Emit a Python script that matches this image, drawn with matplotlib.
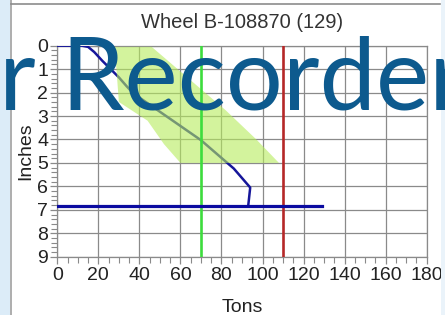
import matplotlib
matplotlib.use("Agg")
import matplotlib.pyplot as plt
from matplotlib.ticker import MultipleLocator
from matplotlib.patches import Polygon, Rectangle
from matplotlib.lines import Line2D

# ---- data ----
title = "Wheel B-108870 (129)"
x_label = "Tons"
y_label = "Inches"
overlay_text = "r Recorder"

curve_tons = [0, 12, 15, 18, 22, 26, 30, 34, 37, 70, 86, 94, 93]
curve_inches = [0, 0, 0.05, 0.27, 0.65, 1.0, 1.35, 1.75, 2.03, 4.03, 5.24, 6.05, 6.85]

limit_tons = [0, 129]
limit_inches = [6.85, 6.85]

band_tons = [28, 46, 82, 97, 108, 60, 52, 44, 30]
band_inches = [0.05, 0.05, 2.75, 4.0, 5.0, 5.0, 4.2, 3.2, 2.4]

green_tons = 70
red_tons = 110

x_ticks = [0, 20, 40, 60, 80, 100, 120, 140, 160, 180]
y_ticks = [0, 1, 2, 3, 4, 5, 6, 7, 8, 9]

# ---- figure ----
W, H = 445, 315
fig = plt.figure(figsize=(W / 100, H / 100), dpi=100)
fig.patch.set_facecolor("white")

# left light blue strip and frame lines
fig.patches.append(Rectangle((0, 0), 10 / W, 1, transform=fig.transFigure,
                             facecolor="#dcecf8", edgecolor="none", zorder=0))
fig.patches.append(Rectangle((441 / W, 0), 4 / W, 1, transform=fig.transFigure,
                             facecolor="#eaf3fa", edgecolor="none", zorder=0))
fig.lines.append(Line2D([10.5 / W, 10.5 / W], [0, 1], transform=fig.transFigure,
                        color="#a0a0a0", lw=1.2))
fig.lines.append(Line2D([11 / W, 440 / W], [1 - 3.5 / H, 1 - 3.5 / H],
                        transform=fig.transFigure, color="#8c8c8c", lw=1.2))

left, right, top, bottom = 57.3, 426.7, 45.7, 256.7
ax = fig.add_axes([left / W, 1 - bottom / H, (right - left) / W, (bottom - top) / H])
ax.set_xlim(0, 180)
ax.set_ylim(9, 0)

ax.xaxis.set_minor_locator(MultipleLocator(5))
ax.yaxis.set_minor_locator(MultipleLocator(0.2))
ax.set_xticks(x_ticks)
ax.set_yticks(y_ticks)

ax.grid(True, which="major", color="#8a8a8a", lw=0.9)
ax.set_axisbelow(True)
for s in ax.spines.values():
    s.set_color("#8a8a8a")
    s.set_linewidth(0.9)

ax.tick_params(axis="both", which="major", direction="out", length=5, width=0.9,
               color="#8a8a8a", labelsize=14, labelcolor="#222222", pad=1.5)
ax.tick_params(axis="x", which="major", pad=2.5)
ax.tick_params(axis="both", which="minor", direction="out", length=4, width=0.8,
               color="#8a8a8a")
for lab in ax.get_xticklabels() + ax.get_yticklabels():
    lab.set_fontfamily("Liberation Sans")

ax.set_xlabel(x_label, fontsize=14, family="Liberation Sans", color="#222222", labelpad=11)
ax.set_ylabel(y_label, fontsize=14, family="Liberation Sans", color="#222222", labelpad=2)
ax.set_title(title, fontsize=14.5, family="Liberation Sans", color="#333333", pad=13)

# data
ax.plot(curve_tons, curve_inches, color="#16169a", lw=1.8, zorder=3)
ax.add_patch(Polygon(list(zip(band_tons, band_inches)), closed=True,
                     facecolor="#b6ec5c", edgecolor="none", alpha=0.6, zorder=4))
ax.axvline(green_tons, color="#3ddc3d", lw=1.9, zorder=5)
ax.axvline(red_tons, color="#b52828", lw=1.9, zorder=5)
ax.plot(limit_tons, limit_inches, color="#0a0aa0", lw=2.3, zorder=6)

# overlay slide title text
fig.text(-1 / W, 1 - 110 / H, overlay_text, fontsize=72.5, family="Lato",
         color="#0d5a8e", ha="left", va="baseline", zorder=20)

fig.savefig("out.png", dpi=100)
